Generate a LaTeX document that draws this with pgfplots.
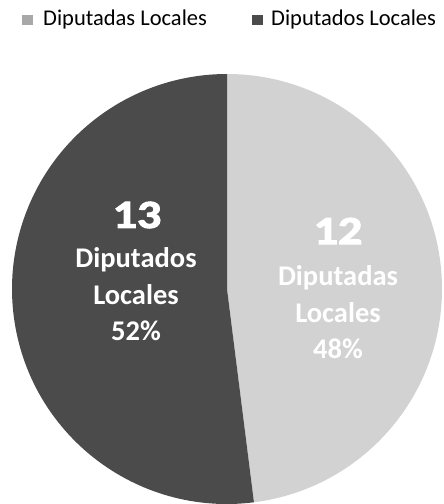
\documentclass[border=0pt]{standalone}
\usepackage{pgfplots}
\pgfplotsset{compat=1.18}
\usepackage{pgfplotstable}
\usepackage{fontspec}
\setmainfont{Carlito}
\newfontfamily\bignum[FakeBold=2.5]{Carlito Bold}

\definecolor{lightslice}{HTML}{D2D2D2}
\definecolor{darkslice}{HTML}{4B4B4B}

% seats by group
\pgfplotstableread{
group value
Diputadas 12
Diputados 13
}\piedata

\begin{document}
\begin{tikzpicture}
\pgfplotstablegetelem{0}{value}\of\piedata \let\vA\pgfplotsretval
\pgfplotstablegetelem{1}{value}\of\piedata \let\vB\pgfplotsretval
\pgfmathsetmacro\total{\vA+\vB}
\pgfmathsetmacro\angA{90-360*\vA/\total}
\pgfmathsetmacro\angB{\angA-360*\vB/\total}
\pgfmathtruncatemacro\nA{\vA}
\pgfmathtruncatemacro\nB{\vB}
\pgfmathtruncatemacro\pctA{round(100*\vA/\total)}
\pgfmathtruncatemacro\pctB{round(100*\vB/\total)}
\begin{axis}[
    scale only axis,
    width=444pt, height=504pt,
    xmin=0, xmax=444, ymin=0, ymax=504,
    hide axis,
    clip=false,
]
    % page frame (1 axis unit = 1pt)
    \path (axis cs:0,0) rectangle (axis cs:444,504);

    % slices
    \fill[lightslice, overlay] (axis cs:227,215) -- ++(90:215pt)
        arc[start angle=90, end angle=\angA, radius=215pt] -- cycle;
    \fill[darkslice, overlay] (axis cs:227,215) -- ++(\angA:215pt)
        arc[start angle=\angA, end angle=\angB, radius=215pt] -- cycle;

    % slice labels
    \node[white, overlay, xscale=1.2, font=\bignum\fontsize{40}{40}\selectfont] at (axis cs:137,289) {\nB};
    \node[white, overlay, align=center, font=\bfseries\fontsize{28.5}{36.5}\selectfont, anchor=north]
        at (axis cs:136,260) {Diputados\\Locales\\\pctB\%};
    \node[white, overlay, xscale=1.2, font=\bignum\fontsize{40}{40}\selectfont] at (axis cs:338,273) {\nA};
    \node[white, overlay, align=center, font=\bfseries\fontsize{28.5}{36.5}\selectfont, anchor=north]
        at (axis cs:338,242) {Diputadas\\Locales\\\pctA\%};

    % legend
    \fill[lightslice!80!black, overlay] (axis cs:22,479) rectangle (axis cs:33,489);
    \node[overlay, anchor=west, font=\fontsize{22.5}{22.5}\selectfont, inner sep=0pt] at (axis cs:43,484) {Diputadas Locales};
    \fill[darkslice, overlay] (axis cs:252,479) rectangle (axis cs:263,489);
    \node[overlay, anchor=west, font=\fontsize{22.5}{22.5}\selectfont, inner sep=0pt] at (axis cs:271,484) {Diputados Locales};
\end{axis}
\end{tikzpicture}
\end{document}
